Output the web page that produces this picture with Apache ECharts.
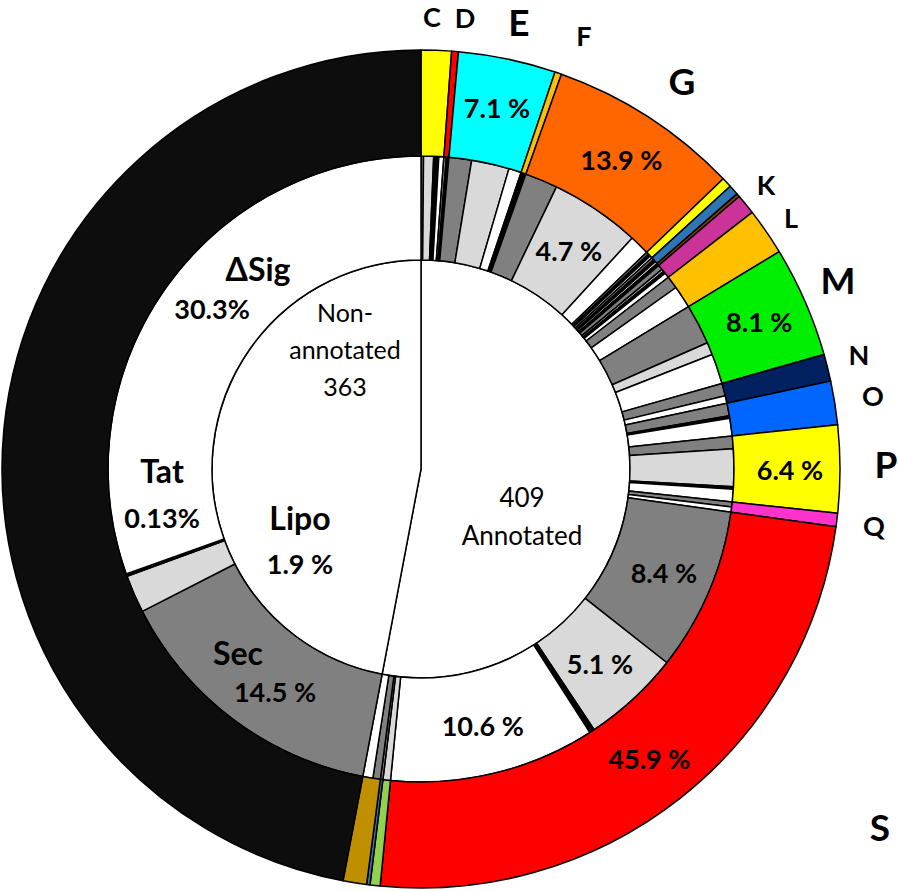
<!DOCTYPE html>
<html><head><meta charset="utf-8">
<script src="https://cdn.jsdelivr.net/npm/echarts@6/dist/echarts.min.js"></script>
<style>html,body{margin:0;padding:0;background:#fff}#c{width:898px;height:892px}</style>
</head><body><div id="c"></div>
<script>
// ---------- data ----------
const categories      = ['C','D','E','F','G','H','I','J','K','L','M','N','O','P','Q','S','T','U','V'];
const categoryCounts  = [9, 2, 29, 2, 57, 3, 3, 1, 6, 14, 33, 8, 13, 26, 4, 188, 3, 1, 7];
const categoryColors  = ['#FFFF00','#FF0000','#00FFFF','#FFC000','#FF6600','#FFFF00','#2E75B6','#843C0C','#CC3399','#FFC000','#00EE00','#002060','#0066FF','#FFFF00','#FF33CC','#FF0000','#92D050','#2E75B6','#BF8F00'];
const categoryPctText = ['','','7.1 %','','13.9 %','','','','','','8.1 %','','','6.4 %','','45.9 %','','',''];

const annotatedTotal    = 409;
const nonAnnotatedTotal = 363;

const sigTypes  = ['Sec','Lipo','Tat','ΔSig'];
const sigColors = ['#808080','#D9D9D9','#000000','#FFFFFF'];
// per category (same order as categories)
const secCounts  = [1,1,9,0,13,1,1,0,2,5,16,5,5,5,2,65,0,1,3];
const lipoCounts = [4,0,15,0,36,0,0,0,1,0,5,0,0,15,0,39,3,0,0];
const tatCounts  = [2,1,0,2,0,1,1,1,1,0,0,0,1,1,0,2,0,0,0];
const dsigCounts = [2,0,5,0,8,1,1,0,2,9,12,3,7,5,2,82,0,0,4];
const nonAnnotatedSig = [112, 15, 1, 235]; // Sec, Lipo, Tat, ΔSig
const middlePctText = {'G|Lipo':'4.7 %','S|Sec':'8.4 %','S|Lipo':'5.1 %','S|ΔSig':'10.6 %'};

// ---------- layout ----------
const CX = 421, CY = 469;
const R_IN = 209, R_MID = 313, R_OUT = 419;
const FONT = 'Lato, "Open Sans", sans-serif';
const border = {borderColor:'#000', borderWidth:1.5};
const pctLabel = {show:true, position:'inside', color:'#000', fontFamily:FONT, fontWeight:'bold', fontSize:27};

// outer ring
const outerData = categories.map((c,i)=>({
  name:c, value:categoryCounts[i],
  itemStyle:{color:categoryColors[i]},
  label: categoryPctText[i] ? Object.assign({formatter:categoryPctText[i]}, pctLabel) : {show:false}
}));
outerData.push({name:'Non-annotated', value:nonAnnotatedTotal, itemStyle:{color:'#0D0D0D'}, label:{show:false}});

// middle ring
const sigArrays = [secCounts, lipoCounts, tatCounts, dsigCounts];
const middleData = [];
categories.forEach((c,i)=>{
  sigTypes.forEach((t,k)=>{
    const v = sigArrays[k][i];
    if (!v) return;
    const txt = middlePctText[c+'|'+t];
    middleData.push({name:c+' '+t, value:v, itemStyle:{color:sigColors[k]},
      label: txt ? Object.assign({formatter:txt}, pctLabel) : {show:false}});
  });
});
sigTypes.forEach((t,k)=>{
  const v = nonAnnotatedSig[k];
  if (v) middleData.push({name:'Non-annotated '+t, value:v, itemStyle:{color:sigColors[k]}, label:{show:false}});
});

// inner pie
const innerData = [
  {name:'Annotated', value:annotatedTotal, itemStyle:{color:'#FFFFFF'}},
  {name:'Non-annotated', value:nonAnnotatedTotal, itemStyle:{color:'#FFFFFF'}}
];

const base = {type:'pie', center:[CX,CY], startAngle:90, clockwise:true, silent:true,
  animation:false, avoidLabelOverlap:false, minAngle:0, labelLine:{show:false},
  emphasis:{disabled:true}, label:{show:false}};

// ---------- free text ----------
const texts = [
  {t:'C', x:432, y:16, s:27}, {t:'D', x:465, y:17, s:27}, {t:'E', x:519, y:21, s:37},
  {t:'F', x:584, y:35, s:27}, {t:'G', x:682, y:80, s:37}, {t:'K', x:766, y:184, s:27},
  {t:'L', x:791, y:217, s:27}, {t:'M', x:838, y:279, s:37}, {t:'N', x:859, y:354, s:27},
  {t:'O', x:873, y:395, s:27}, {t:'P', x:886, y:463, s:37}, {t:'Q', x:874, y:525, s:27},
  {t:'S', x:880, y:826, s:37},
  {t:'ΔSig', x:258, y:268, s:32}, {t:'30.3%', x:212, y:308, s:27},
  {t:'Tat', x:162, y:470, s:32}, {t:'0.13%', x:162, y:517, s:27},
  {t:'Lipo', x:300, y:517, s:32}, {t:'1.9 %', x:300, y:563, s:27},
  {t:'Sec', x:238, y:652, s:32}, {t:'14.5 %', x:275, y:691, s:27},
  {t:'Non-\nannotated\n' + nonAnnotatedTotal, x:345, y:349, s:25, w:'normal', lh:37},
  {t:annotatedTotal + '\nAnnotated', x:522, y:516, s:26, w:'normal', lh:38}
];
const graphic = texts.map(o=>({
  type:'text', x:o.x, y:o.y, z:100, silent:true,
  style:{text:o.t, fill:'#000', font:(o.w||'bold')+' '+o.s+'px '+FONT,
    fontFamily:FONT, fontSize:o.s, fontWeight:(o.w||'bold'),
    align:'center', verticalAlign:'middle', textAlign:'center', textVerticalAlign:'middle',
    lineHeight:o.lh||o.s*1.2}
}));

const chart = echarts.init(document.getElementById('c'), null, {renderer:'svg'});
chart.setOption({
  backgroundColor:'#fff',
  animation:false,
  series:[
    Object.assign({}, base, {name:'inner', radius:[0,R_IN], data:innerData, itemStyle:border}),
    Object.assign({}, base, {name:'middle', radius:[R_IN,R_MID], data:middleData, itemStyle:border}),
    Object.assign({}, base, {name:'outer', radius:[R_MID,R_OUT], data:outerData, itemStyle:border})
  ],
  graphic: graphic
});
</script></body></html>
